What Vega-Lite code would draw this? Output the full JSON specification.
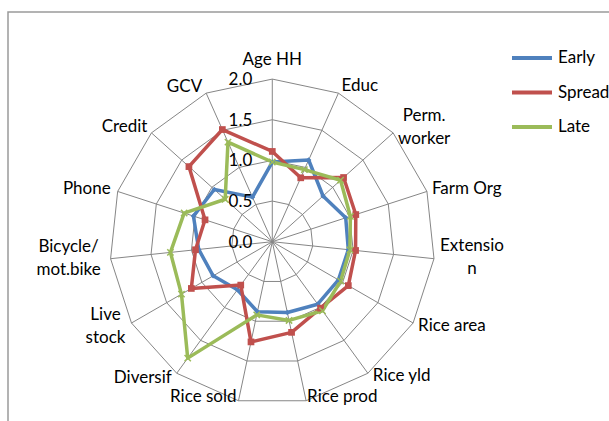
{
  "$schema": "https://vega.github.io/schema/vega-lite/v6.json",
  "width": 605,
  "height": 415,
  "autosize": "none",
  "padding": {"left": 8, "top": 12, "right": 0, "bottom": 0},
  "background": "white",
  "config": {"view": {"stroke": "#9a9a9a", "strokeWidth": 1.5}, "font": "Lato"},
  "datasets": {
    "radar": [
      {"axis": "Age HH", "Early": 0.98, "Spread": 1.11, "Late": 0.98},
      {"axis": "Educ", "Early": 1.10, "Spread": 0.86, "Late": 0.97},
      {"axis": "Perm.\nworker", "Early": 0.84, "Spread": 1.18, "Late": 1.13},
      {"axis": "Farm Org", "Early": 0.95, "Spread": 1.08, "Late": 1.01},
      {"axis": "Extensio\nn", "Early": 0.94, "Spread": 1.03, "Late": 0.96},
      {"axis": "Rice area", "Early": 0.94, "Spread": 1.08, "Late": 0.97},
      {"axis": "Rice yld", "Early": 0.95, "Spread": 1.01, "Late": 1.05},
      {"axis": "Rice prod", "Early": 0.89, "Spread": 1.14, "Late": 0.99},
      {"axis": "Rice sold", "Early": 0.88, "Spread": 1.26, "Late": 0.92},
      {"axis": "Diversif", "Early": 0.73, "Spread": 0.66, "Late": 1.77},
      {"axis": "Live\nstock", "Early": 0.84, "Spread": 1.15, "Late": 1.29},
      {"axis": "Bicycle/\nmot.bike", "Early": 0.91, "Spread": 0.95, "Late": 1.26},
      {"axis": "Phone", "Early": 1.02, "Spread": 0.87, "Late": 1.14},
      {"axis": "Credit", "Early": 0.96, "Spread": 1.38, "Late": 0.78},
      {"axis": "GCV", "Early": 0.60, "Spread": 1.51, "Late": 1.34}
    ],
    "levels": [{"v": 0}, {"v": 0.5}, {"v": 1}, {"v": 1.5}, {"v": 2}]
  },
  "data": {"name": "radar"},
  "transform": [
    {"window": [{"op": "row_number", "as": "idx"}]},
    {"calculate": "(datum.idx - 1) * 2 * PI / 15", "as": "a"}
  ],
  "layer": [
    {
      "transform": [
        {"calculate": "[0.5, 1, 1.5, 2]", "as": "lv"},
        {"flatten": ["lv"]},
        {"calculate": "datum.lv * sin(datum.a)", "as": "gx"},
        {"calculate": "datum.lv * cos(datum.a)", "as": "gy"}
      ],
      "mark": {"type": "line", "interpolate": "linear-closed", "stroke": "#868686", "strokeWidth": 1},
      "encoding": {
        "x": {"field": "gx", "type": "quantitative", "scale": {"domain": [-3.251, 4.191], "nice": false, "zero": false}, "axis": null},
        "y": {"field": "gy", "type": "quantitative", "scale": {"domain": [-2.279, 2.825], "nice": false, "zero": false}, "axis": null},
        "detail": {"field": "lv", "type": "nominal"},
        "order": {"field": "idx", "type": "quantitative"}
      }
    },
    {
      "transform": [
        {"calculate": "0", "as": "ox"},
        {"calculate": "2 * sin(datum.a)", "as": "sx"},
        {"calculate": "2 * cos(datum.a)", "as": "sy"}
      ],
      "mark": {"type": "rule", "stroke": "#868686", "strokeWidth": 1},
      "encoding": {
        "x": {"field": "ox", "type": "quantitative"},
        "y": {"field": "ox", "type": "quantitative"},
        "x2": {"field": "sx"},
        "y2": {"field": "sy"}
      }
    },
    {
      "transform": [
        {"fold": ["Early", "Spread", "Late"], "as": ["series", "value"]},
        {"calculate": "datum.value * sin(datum.a)", "as": "px"},
        {"calculate": "datum.value * cos(datum.a)", "as": "py"}
      ],
      "encoding": {
        "x": {"field": "px", "type": "quantitative"},
        "y": {"field": "py", "type": "quantitative"}
      },
      "layer": [
        {
          "mark": {"type": "line", "interpolate": "linear-closed", "strokeWidth": 3.5, "strokeJoin": "round"},
          "encoding": {
            "color": {
              "field": "series", "type": "nominal",
              "scale": {"domain": ["Early", "Spread", "Late"], "range": ["#4F81BD", "#C0504D", "#9BBB59"]},
              "legend": {
                "orient": "none", "legendX": 502, "legendY": 37, "title": null,
                "symbolType": "stroke", "symbolSize": 1600, "symbolStrokeWidth": 4,
                "labelFontSize": 17, "labelFont": "Lato", "labelColor": "#000000",
                "clipHeight": 18, "rowPadding": 16.5, "labelOffset": 4, "padding": 0
              }
            },
            "order": {"field": "idx", "type": "quantitative"}
          }
        },
        {
          "transform": [{"filter": "datum.series === 'Early'"}],
          "mark": {"type": "point", "shape": "diamond", "filled": true, "size": 30, "color": "#4F81BD", "opacity": 1}
        },
        {
          "transform": [{"filter": "datum.series === 'Spread'"}],
          "mark": {"type": "point", "shape": "square", "filled": true, "size": 45, "color": "#C0504D", "opacity": 1}
        },
        {
          "transform": [{"filter": "datum.series === 'Late'"}],
          "mark": {"type": "point", "shape": "M-1,-1L1,1M-1,1L1,-1", "filled": false, "size": 40, "strokeWidth": 1.5, "color": "#9BBB59", "opacity": 1}
        }
      ]
    },
    {
      "data": {"name": "levels"},
      "transform": [{"calculate": "0", "as": "tx"}],
      "mark": {"type": "text", "align": "right", "baseline": "middle", "dx": -20, "dy": 1, "fontSize": 17, "font": "Lato", "color": "#000000"},
      "encoding": {
        "x": {"field": "tx", "type": "quantitative"},
        "y": {"field": "v", "type": "quantitative"},
        "text": {"field": "v", "type": "quantitative", "format": ".1f"}
      }
    },
    {
      "transform": [
        {"calculate": "2 * sin(datum.a)", "as": "lx"},
        {"calculate": "2 * cos(datum.a)", "as": "ly"}
      ],
      "encoding": {
        "x": {"field": "lx", "type": "quantitative"},
        "y": {"field": "ly", "type": "quantitative"},
        "text": {"field": "axis", "type": "nominal"}
      },
      "layer": [
        {"transform": [{"filter": {"field": "idx", "oneOf": [1]}}], "mark": {"type": "text", "align": "center", "baseline": "alphabetic", "dy": -14, "fontSize": 17, "font": "Lato", "color": "#000000", "lineBreak": "\n"}},
        {"transform": [{"filter": {"field": "idx", "oneOf": [2]}}], "mark": {"type": "text", "align": "left", "baseline": "middle", "dx": 3, "dy": -7, "fontSize": 17, "font": "Lato", "color": "#000000", "lineBreak": "\n"}},
        {"transform": [{"filter": {"field": "idx", "oneOf": [4]}}], "mark": {"type": "text", "align": "left", "baseline": "middle", "dx": 5, "dy": -2, "fontSize": 17, "font": "Lato", "color": "#000000", "lineBreak": "\n"}},
        {"transform": [{"filter": {"field": "idx", "oneOf": [6, 7]}}], "mark": {"type": "text", "align": "left", "baseline": "middle", "dx": 5, "dy": 3, "fontSize": 17, "font": "Lato", "color": "#000000", "lineBreak": "\n"}},
        {"transform": [{"filter": {"field": "idx", "oneOf": [8]}}], "mark": {"type": "text", "align": "left", "baseline": "middle", "dx": 1, "dy": -4, "fontSize": 17, "font": "Lato", "color": "#000000", "lineBreak": "\n"}},
        {"transform": [{"filter": {"field": "idx", "oneOf": [9]}}], "mark": {"type": "text", "align": "right", "baseline": "middle", "dx": -2, "dy": -4, "fontSize": 17, "font": "Lato", "color": "#000000", "lineBreak": "\n"}},
        {"transform": [{"filter": {"field": "idx", "oneOf": [10]}}], "mark": {"type": "text", "align": "right", "baseline": "middle", "dx": -5, "dy": 5, "fontSize": 17, "font": "Lato", "color": "#000000", "lineBreak": "\n"}},
        {"transform": [{"filter": {"field": "idx", "oneOf": [13]}}], "mark": {"type": "text", "align": "right", "baseline": "middle", "dx": -7, "dy": -2, "fontSize": 17, "font": "Lato", "color": "#000000", "lineBreak": "\n"}},
        {"transform": [{"filter": {"field": "idx", "oneOf": [14, 15]}}], "mark": {"type": "text", "align": "right", "baseline": "middle", "dx": -4, "dy": -6, "fontSize": 17, "font": "Lato", "color": "#000000", "lineBreak": "\n"}},
        {"transform": [{"filter": {"field": "idx", "oneOf": [3]}}], "mark": {"type": "text", "align": "center", "baseline": "middle", "dx": 31, "dy": -16.5, "fontSize": 17, "font": "Lato", "color": "#000000", "lineBreak": "\n", "lineHeight": 23}},
        {"transform": [{"filter": {"field": "idx", "oneOf": [5]}}], "mark": {"type": "text", "align": "center", "baseline": "middle", "dx": 38, "dy": -12.5, "fontSize": 17, "font": "Lato", "color": "#000000", "lineBreak": "\n", "lineHeight": 23}},
        {"transform": [{"filter": {"field": "idx", "oneOf": [11]}}], "mark": {"type": "text", "align": "center", "baseline": "middle", "dx": -26, "dy": -8.5, "fontSize": 17, "font": "Lato", "color": "#000000", "lineBreak": "\n", "lineHeight": 23}},
        {"transform": [{"filter": {"field": "idx", "oneOf": [12]}}], "mark": {"type": "text", "align": "center", "baseline": "middle", "dx": -42, "dy": -11.5, "fontSize": 17, "font": "Lato", "color": "#000000", "lineBreak": "\n", "lineHeight": 23}}
      ]
    }
  ]
}
